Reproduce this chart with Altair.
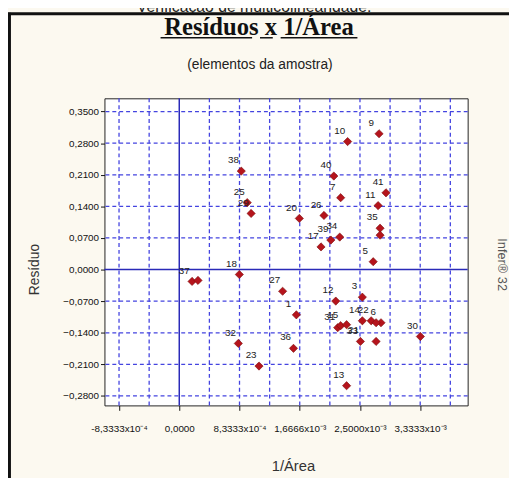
import altair as alt
import pandas as pd

# ---- data ----
labels = ["9", "10", "38", "40", "41", "7", "11", "25", "29", "20", "26", "35", "",
          "39", "34", "17", "5", "18", "37", "", "27", "1", "32", "36", "23", "12",
          "3", "14", "22", "6", "", "31", "15", "21", "33", "", "30", "13"]
inv_area = [2.764e-3, 2.329e-3, 0.858e-3, 2.138e-3, 2.860e-3, 2.233e-3, 2.751e-3,
            0.940e-3, 0.994e-3, 1.661e-3, 2.002e-3, 2.778e-3, 2.778e-3,
            2.097e-3, 2.220e-3, 1.961e-3, 2.683e-3, 0.831e-3, 0.177e-3, 0.259e-3,
            1.430e-3, 1.620e-3, 0.817e-3, 1.580e-3, 1.103e-3, 2.165e-3,
            2.533e-3, 2.533e-3, 2.655e-3, 2.791e-3, 2.723e-3, 2.192e-3, 2.233e-3,
            2.315e-3, 2.506e-3, 2.723e-3, 3.336e-3, 2.315e-3]
residuo = [0.3009, 0.2835, 0.2181, 0.2072, 0.1701, 0.1592, 0.1417,
           0.1483, 0.1243, 0.1134, 0.1199, 0.0916, 0.0763,
           0.0654, 0.0720, 0.0502, 0.0174, -0.0109, -0.0262, -0.0240,
           -0.0480, -0.1003, -0.1636, -0.1745, -0.2137, -0.0698,
           -0.0611, -0.1134, -0.1134, -0.1178, -0.1178, -0.1287, -0.1243,
           -0.1221, -0.1592, -0.1592, -0.1483, -0.2573]

x_grid = [-8.3333e-4, -4.1667e-4, 4.1667e-4, 8.3333e-4, 1.25e-3, 1.6667e-3,
          2.0833e-3, 2.5e-3, 2.9167e-3, 3.3333e-3, 3.75e-3]
x_ticks = [-8.3333e-4, 0.0, 8.3333e-4, 1.6667e-3, 2.5e-3, 3.3333e-3]
x_tick_labels = ["-8,3333x10\u207b\u2074", "0,0000", "8,3333x10\u207b\u2074",
                 "1,6666x10\u207b\u00b3", "2,5000x10\u207b\u00b3", "3,3333x10\u207b\u00b3"]
y_grid = [-0.28, -0.21, -0.14, -0.07, 0.07, 0.14, 0.21, 0.28, 0.35]
y_ticks = [-0.28, -0.21, -0.14, -0.07, 0.0, 0.07, 0.14, 0.21, 0.28, 0.35]

x_domain = [-1.0349e-3, 3.9898e-3]
y_domain = [-0.3009, 0.3794]

W, H = 369, 312
GRID = "#4444e0"
FONT = "Liberation Sans"
BELOW_RIGHT = ["21"]  # labels drawn below-right of their point

df = pd.DataFrame({"x": inv_area, "y": residuo, "lab": labels})
one = pd.DataFrame({"a": [0]})

xs = alt.Scale(domain=x_domain, nice=False, zero=False)
ys = alt.Scale(domain=y_domain, nice=False, zero=False)

lab_js = "[" + ",".join("'" + s + "'" for s in x_tick_labels) + "]"

x_axis = alt.Axis(values=x_ticks, title=None, grid=False, domain=False,
                  labelExpr=lab_js + "[round(datum.value*1200)+1]",
                  labelFont=FONT, labelFontSize=10, labelColor="#111",
                  tickColor="#111", tickSize=5, labelPadding=14,
                  labelFlush=False, labelOverlap=False)
y_axis = alt.Axis(values=y_ticks, title=None, grid=False, domain=False,
                  labelExpr="replace(format(datum.value, '.4f'), '.', ',')",
                  labelFont=FONT, labelFontSize=10, labelColor="#111",
                  tickColor="#111", tickSize=4, labelPadding=2,
                  labelOverlap=False)

gx = alt.Chart(pd.DataFrame({"g": x_grid})).mark_rule(
    color=GRID, strokeDash=[4, 3], strokeWidth=1.3).encode(
    x=alt.X("g:Q", scale=xs, axis=x_axis, title=None))
gy = alt.Chart(pd.DataFrame({"g": y_grid})).mark_rule(
    color=GRID, strokeDash=[4, 3], strokeWidth=1.3).encode(
    y=alt.Y("g:Q", scale=ys, axis=y_axis, title=None))
zx = alt.Chart(pd.DataFrame({"z": [0.0]})).mark_rule(
    color="#2a2ab8", strokeWidth=1.5).encode(
    x=alt.X("z:Q", scale=xs, axis=x_axis, title=None))
zy = alt.Chart(pd.DataFrame({"z": [0.0]})).mark_rule(
    color="#2a2ab8", strokeWidth=1.5).encode(
    y=alt.Y("z:Q", scale=ys, axis=y_axis, title=None))

pts = alt.Chart(df).mark_point(shape="diamond", filled=True, size=70,
                               color="#b5141c", stroke="#7a0a0a",
                               strokeWidth=0.6, opacity=1).encode(
    x=alt.X("x:Q", scale=xs, axis=x_axis, title=None),
    y=alt.Y("y:Q", scale=ys, axis=y_axis, title=None))

below_js = "indexof([" + ",".join("'" + s + "'" for s in BELOW_RIGHT) + "], datum.lab) >= 0"

txt = alt.Chart(df).transform_filter(
    "datum.lab != '' && !(" + below_js + ")").mark_text(
    font=FONT, fontSize=10, color="#222", dx=-8, dy=-11).encode(
    x=alt.X("x:Q", scale=xs, axis=x_axis, title=None),
    y=alt.Y("y:Q", scale=ys, axis=y_axis, title=None),
    text="lab:N")
txt2 = alt.Chart(df).transform_filter(below_js).mark_text(
    font=FONT, fontSize=10, color="#222", dx=7, dy=5).encode(
    x=alt.X("x:Q", scale=xs, axis=x_axis, title=None),
    y=alt.Y("y:Q", scale=ys, axis=y_axis, title=None),
    text="lab:N")


def label(s, x, y, **kw):
    return alt.Chart(one).mark_text(text=s, **kw).encode(
        x=alt.value(x), y=alt.value(y))


def hline(x1, x2, y, color="#111", w=1.5):
    return alt.Chart(one).mark_rule(color=color, strokeWidth=w).encode(
        x=alt.value(x1), x2=alt.value(x2), y=alt.value(y))


def vline(x, y1, y2, color="#111", w=3):
    return alt.Chart(one).mark_rule(color=color, strokeWidth=w).encode(
        x=alt.value(x), y=alt.value(y1), y2=alt.value(y2))


deco = [
    label("Verificação de multicolinearidade:", 152, -88, font=FONT,
          fontSize=16, color="#222", baseline="alphabetic"),
    vline(-96.5, -87, 390),
    hline(-98, 420, -86, w=3),
    label("Resíduos x 1/Área", 157, -64, font="Liberation Serif",
          fontSize=25, fontWeight="bold", color="#111", baseline="alphabetic"),
    hline(57, 150, -61.5, w=1.5),
    hline(158, 171, -61.5, w=1.5),
    hline(179, 257, -61.5, w=1.5),
    label("(elementos da amostra)", 158, -34, font=FONT, fontSize=14,
          color="#222", baseline="middle"),
    label("Resíduo", -71, 174, font=FONT, fontSize=14, color="#333",
          angle=270, baseline="middle"),
    label("Infer® 32", 404, 169, font=FONT, fontSize=13, color="#555",
          angle=90, baseline="middle"),
    label("1/Área", 192, 374, font=FONT, fontSize=15, color="#333",
          baseline="middle"),
]

chart = alt.layer(gx, gy, zx, zy, pts, txt, txt2, *deco).properties(
    width=W, height=H, autosize="none",
    padding={"left": 98, "top": 88, "right": 42, "bottom": 70},
).configure(background="#fcf9f0").configure_view(
    fill="white", stroke="#222", strokeWidth=1)

chart.save("out.html", embed_options={"renderer": "svg", "actions": False})
